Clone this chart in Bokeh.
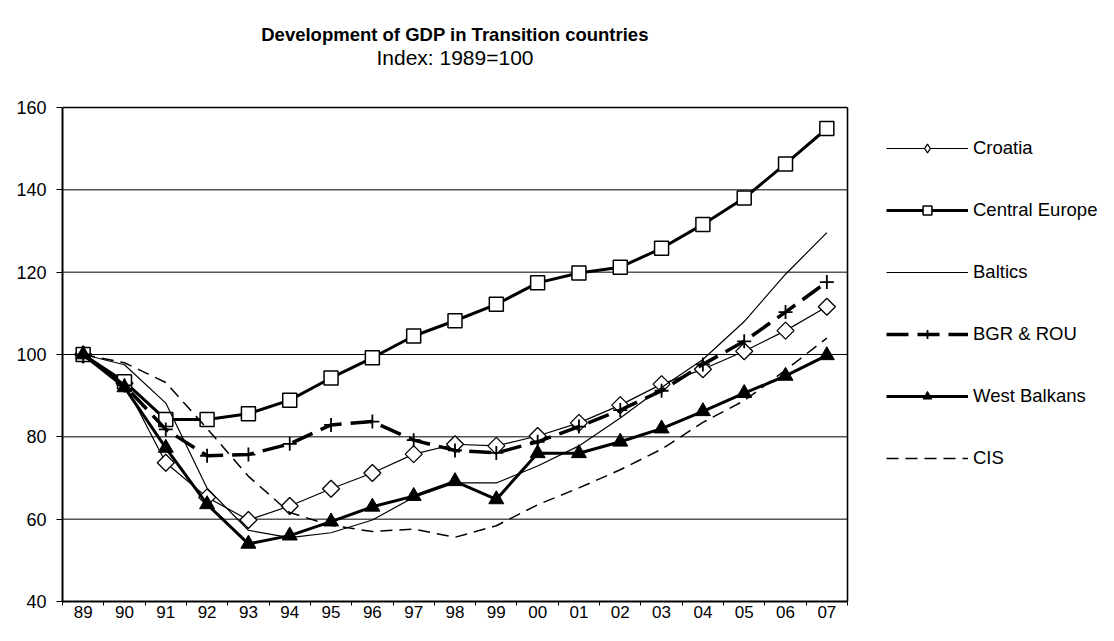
from math import pi
from bokeh.plotting import figure
from bokeh.models import Range1d, FixedTicker, Legend, LegendItem, Label
from bokeh.embed import file_html
from bokeh.resources import INLINE

years = ["89", "90", "91", "92", "93", "94", "95", "96", "97", "98",
         "99", "00", "01", "02", "03", "04", "05", "06", "07"]

croatia = [100, 93, 73.7, 65.3, 59.8, 63.2, 67.4, 71.2, 75.8, 78.2,
           77.8, 80.2, 83.4, 87.7, 92.8, 96.4, 100.8, 105.8, 111.6]
central_europe = [100, 93.4, 84.2, 84.2, 85.6, 88.9, 94.3, 99.2, 104.5, 108.2,
                  112.2, 117.4, 119.8, 121.2, 125.8, 131.6, 138.0, 146.3, 154.9]
baltics = [100, 97.5, 88.2, 67.5, 57.3, 55.5, 56.7, 59.8, 65.3, 68.8,
           68.8, 72.9, 77.8, 84.6, 92.0, 98.8, 108.0, 119.5, 129.6]
bgr_rou = [100, 92.5, 81.8, 75.4, 75.7, 78.3, 82.9, 83.7, 79.2, 76.7,
           76.1, 78.8, 82.5, 86.5, 91.2, 97.6, 103.2, 110.3, 117.6]
west_balkans = [100, 92, 77.3, 63.6, 54.0, 56.0, 59.4, 63.0, 65.6, 69.2,
                64.8, 76.0, 76.0, 78.8, 82.0, 86.2, 90.6, 94.8, 99.8]
cis = [100, 98, 93.2, 82, 70.4, 61.6, 58.5, 57.0, 57.6, 55.6,
       58.4, 63.5, 67.6, 72.0, 77.0, 83.5, 88.8, 96.2, 104.0]

y_ticks = [40, 60, 80, 100, 120, 140, 160]

# ---- layout constants (pixels) ----
W, H = 1098, 625
PLOT_LEFT, PLOT_RIGHT, PLOT_TOP, PLOT_BOTTOM = 62, 847, 107, 601
FONT = "Liberation Sans"

x = list(range(len(years)))
X0, X1 = -0.5, len(years) - 0.5
Y0, Y1 = y_ticks[0], y_ticks[-1]
px_x = (PLOT_RIGHT - PLOT_LEFT) / (X1 - X0)
px_y = (PLOT_BOTTOM - PLOT_TOP) / (Y1 - Y0)
x_max = X0 + (W - PLOT_LEFT) / px_x
y_max = Y0 + PLOT_BOTTOM / px_y

p = figure(width=W, height=H, output_backend="svg", toolbar_location=None,
           title=None,
           x_range=Range1d(X0, x_max), y_range=Range1d(Y0, y_max),
           min_border_left=PLOT_LEFT, min_border_right=0, min_border_top=0,
           min_border_bottom=H - PLOT_BOTTOM)

p.background_fill_color = "white"
p.border_fill_color = "white"
p.outline_line_color = None

# x axis
p.xaxis.bounds = (X0, X1)
p.xaxis.ticker = FixedTicker(ticks=x, minor_ticks=[i - 0.5 for i in range(len(years) + 1)])
p.xaxis.major_label_overrides = {i: lab for i, lab in enumerate(years)}
p.xaxis.major_tick_line_color = None
p.xaxis.major_tick_out = 0
p.xaxis.major_tick_in = 0
p.xaxis.minor_tick_line_color = "black"
p.xaxis.minor_tick_out = 4
p.xaxis.minor_tick_in = 0
p.xaxis.axis_line_color = "black"
p.xaxis.axis_line_width = 2
p.xaxis.major_label_standoff = 0
p.xaxis.major_label_text_font = FONT
p.xaxis.major_label_text_font_size = "17px"
p.xaxis.major_label_text_color = "black"
p.xgrid.visible = False

# y axis
p.yaxis.bounds = (Y0, Y1)
p.yaxis.ticker = FixedTicker(ticks=y_ticks)
p.yaxis.minor_tick_line_color = None
p.yaxis.major_tick_out = 6
p.yaxis.major_tick_in = 0
p.yaxis.major_tick_line_color = "black"
p.yaxis.axis_line_color = "black"
p.yaxis.axis_line_width = 2
p.yaxis.major_label_standoff = 10
p.yaxis.major_label_text_font = FONT
p.yaxis.major_label_text_font_size = "18px"
p.yaxis.major_label_text_color = "black"
p.ygrid.visible = False

# horizontal gridlines and plot-area border (top & right)
grid_vals = y_ticks[1:-1]
p.segment(x0=[X0] * len(grid_vals), x1=[X1] * len(grid_vals),
          y0=grid_vals, y1=grid_vals, line_color="black", line_width=1)
p.segment(x0=[X0], x1=[X1], y0=[Y1], y1=[Y1], line_color="black", line_width=1.6)
p.segment(x0=[X1], x1=[X1], y0=[Y0], y1=[Y1], line_color="black", line_width=1.6)

items = []

l1 = p.line(x, croatia, line_color="black", line_width=1.2)
m1 = p.scatter(x, croatia, marker="square", angle=pi / 4, size=12,
               fill_color="white", line_color="black", line_width=1.3)
# legend key only (point lies outside the visible y range)
m1_key = p.scatter([x[0]], [0], marker="diamond", size=12,
                   fill_color="white", line_color="black", line_width=1.3)
items.append(LegendItem(label="Croatia", renderers=[l1, m1_key]))

l2 = p.line(x, central_europe, line_color="black", line_width=3)
m2 = p.scatter(x, central_europe, marker="square", size=14,
               fill_color="white", line_color="black", line_width=1.5)
items.append(LegendItem(label="Central Europe", renderers=[l2, m2]))

l3 = p.line(x, baltics, line_color="black", line_width=1.2)
items.append(LegendItem(label="Baltics", renderers=[l3]))

l4 = p.line(x, bgr_rou, line_color="black", line_width=3.5, line_dash="22 9")
m4 = p.scatter(x, bgr_rou, marker="cross", size=14, line_color="black", line_width=1.8)
items.append(LegendItem(label="BGR & ROU", renderers=[l4, m4]))

l5 = p.line(x, west_balkans, line_color="black", line_width=3)
m5 = p.scatter(x, west_balkans, marker="triangle", size=15,
               fill_color="black", line_color="black")
items.append(LegendItem(label="West Balkans", renderers=[l5, m5]))

l6 = p.line(x, cis, line_color="black", line_width=1.5, line_dash="12 7")
items.append(LegendItem(label="CIS", renderers=[l6]))

GLYPH_H, SPACING = 22, 40
legend_h = len(items) * GLYPH_H + (len(items) - 1) * SPACING
legend_top = 137
legend = Legend(items=items,
                location=(886 - PLOT_LEFT, PLOT_BOTTOM - (legend_top + legend_h)),
                glyph_width=82, glyph_height=GLYPH_H,
                spacing=SPACING, label_standoff=5, padding=0, margin=0,
                border_line_color=None, background_fill_alpha=0,
                label_text_font=FONT, label_text_font_size="18.5px",
                label_text_color="black")
p.add_layout(legend)

cx = (PLOT_RIGHT - PLOT_LEFT) / 2
p.add_layout(Label(x=cx, y=PLOT_BOTTOM - 34, x_units="screen", y_units="screen",
                   text="Development of GDP in Transition countries",
                   text_align="center", text_baseline="middle",
                   text_font=FONT, text_font_size="18.5px", text_font_style="bold",
                   text_color="black"))
p.add_layout(Label(x=cx, y=PLOT_BOTTOM - 57, x_units="screen", y_units="screen",
                   text="Index: 1989=100",
                   text_align="center", text_baseline="middle",
                   text_font=FONT, text_font_size="21px",
                   text_color="black"))

open("out.html", "w").write(file_html(p, INLINE))
